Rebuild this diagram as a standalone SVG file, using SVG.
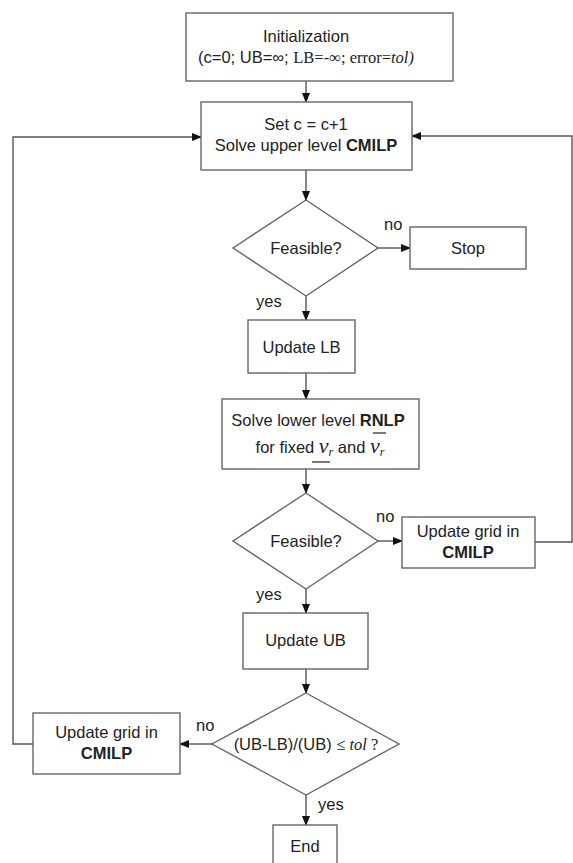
<svg xmlns="http://www.w3.org/2000/svg" width="573" height="863" viewBox="0 0 573 863">
<defs>
<marker id="ah" markerWidth="10" markerHeight="8" refX="9" refY="4" orient="auto" markerUnits="userSpaceOnUse">
<path d="M0,0 L10,4 L0,8 z" fill="#111"/>
</marker>
<style>
.b{fill:#fff;stroke:#666;stroke-width:1.4}
.t{font-family:"Liberation Sans",Arial,sans-serif;font-size:16.5px;fill:#222;text-anchor:middle}
.l{font-family:"Liberation Sans",Arial,sans-serif;font-size:16.5px;fill:#222}
.s{font-family:"Liberation Serif","Times New Roman",serif}
.c{fill:none;stroke:#555;stroke-width:1.4}
.bold{font-weight:bold}
</style>
</defs>
<rect width="573" height="863" fill="#fff"/>
<g id="connectors">
<path class="c" d="M306,81 V102" marker-end="url(#ah)"/>
<path class="c" d="M306,170 V200" marker-end="url(#ah)"/>
<path class="c" d="M378,248 H410" marker-end="url(#ah)"/>
<path class="c" d="M306,296 V320" marker-end="url(#ah)"/>
<path class="c" d="M306,373 V399" marker-end="url(#ah)"/>
<path class="c" d="M306,469 V493" marker-end="url(#ah)"/>
<path class="c" d="M378,541 H402" marker-end="url(#ah)"/>
<path class="c" d="M535,542 H572 V136 H412" marker-end="url(#ah)"/>
<path class="c" d="M306,589 V613" marker-end="url(#ah)"/>
<path class="c" d="M306,669 V693" marker-end="url(#ah)"/>
<path class="c" d="M212,744 H180" marker-end="url(#ah)"/>
<path class="c" d="M33,744 H13 V137 H201" marker-end="url(#ah)"/>
<path class="c" d="M306,795 V825" marker-end="url(#ah)"/>
<text class="l" x="384" y="230">no</text>
<text class="l" x="256" y="307">yes</text>
<text class="l" x="376" y="522">no</text>
<text class="l" x="256" y="600">yes</text>
<text class="l" x="196" y="731">no</text>
<text class="l" x="318" y="810">yes</text>
</g>
<g id="init">
<rect class="b" x="186" y="13" width="267" height="68"/>
<text class="t" x="306" y="42">Initialization</text>
<text class="t" x="306" y="63">(c=0; UB=∞; <tspan class="s">LB=-∞; error=<tspan font-style="italic">tol)</tspan></tspan></text>
</g>
<g id="solve-upper">
<rect class="b" x="201" y="102" width="211" height="68"/>
<text class="t" x="306" y="130">Set c = c+1</text>
<text class="t" x="306" y="151">Solve upper level <tspan class="bold">CMILP</tspan></text>
</g>
<g id="feasible1">
<polygon class="b" points="306,200 378,248 306,296 233,248"/>
<text class="t" x="306" y="254">Feasible?</text>
</g>
<g id="stop">
<rect class="b" x="410" y="227" width="116" height="42"/>
<text class="t" x="468" y="254">Stop</text>
</g>
<g id="update-lb">
<rect class="b" x="248" y="320" width="107" height="53"/>
<text class="t" x="301.5" y="353">Update LB</text>
</g>
<g id="solve-lower">
<rect class="b" x="222" y="399" width="197" height="70"/>
<text class="t" x="318" y="426">Solve lower level <tspan class="bold">RNLP</tspan></text>
<line x1="373" y1="433" x2="386" y2="433" stroke="#222" stroke-width="1.2"/>
<text class="t" x="320" y="453">for fixed <tspan class="s" font-size="22px" font-style="italic">ν</tspan><tspan class="s" font-size="12px" font-style="italic" dy="3">r</tspan><tspan dy="-3"> and </tspan><tspan class="s" font-size="22px" font-style="italic">ν</tspan><tspan class="s" font-size="12px" font-style="italic" dy="3">r</tspan></text>
<line x1="312" y1="462" x2="330" y2="462" stroke="#222" stroke-width="1.2"/>
</g>
<g id="feasible2">
<polygon class="b" points="306,493 378,541 306,589 233,541"/>
<text class="t" x="306" y="547">Feasible?</text>
</g>
<g id="update-grid-right">
<rect class="b" x="402" y="517" width="133" height="51"/>
<text class="t" x="468" y="537">Update grid in</text>
<text class="t" x="468" y="558" font-weight="bold">CMILP</text>
</g>
<g id="update-ub">
<rect class="b" x="243" y="613" width="125" height="56"/>
<text class="t" x="305.5" y="646">Update UB</text>
</g>
<g id="convergence">
<polygon class="b" points="306,693 399,744 306,795 212,744"/>
<text class="t" x="306" y="750">(UB-LB)/(UB) <tspan class="s">≤ <tspan font-style="italic">tol</tspan> ?</tspan></text>
</g>
<g id="update-grid-left">
<rect class="b" x="33" y="713" width="147" height="61"/>
<text class="t" x="106.5" y="738">Update grid in</text>
<text class="t" x="106.5" y="759" font-weight="bold">CMILP</text>
</g>
<g id="end">
<rect class="b" x="273" y="825" width="64" height="50"/>
<text class="t" x="305" y="852">End</text>
</g>
</svg>
